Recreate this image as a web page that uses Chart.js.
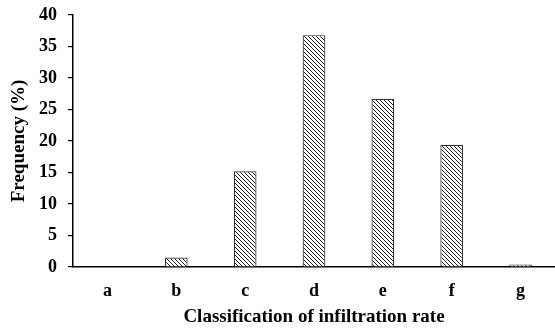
<!DOCTYPE html>
<html>
<head>
<meta charset="utf-8">
<script src="https://cdn.jsdelivr.net/npm/chart.js@4.4.1/dist/chart.umd.min.js"></script>
<style>
  html, body { margin: 0; padding: 0; background: #fff; }
  #wrap { width: 555px; height: 333px; }
</style>
</head>
<body>
<div id="wrap"><canvas id="infChart"></canvas></div>
<script>
const categories = ["a", "b", "c", "d", "e", "f", "g"];
const frequency = [0, 1.5, 15.2, 36.8, 26.7, 19.4, 0.4];
const yTicks = [0, 5, 10, 15, 20, 25, 30, 35, 40];

// diagonal hatch fill like the original
function makeHatch() {
    const size = 4;
    const c = document.createElement("canvas");
    c.width = size; c.height = size;
    const g = c.getContext("2d");
    g.fillStyle = "#fff";
    g.fillRect(0, 0, size, size);
    g.strokeStyle = "#222";
    g.lineWidth = 1;
    g.beginPath();
    g.moveTo(-1, -1); g.lineTo(size + 1, size + 1);
    g.moveTo(-1, size - 1); g.lineTo(1, size + 1);
    g.moveTo(size - 1, -1); g.lineTo(size + 1, 1);
    g.stroke();
    return g.createPattern(c, "repeat");
}

const font = { family: "'Liberation Serif', 'Times New Roman', serif", weight: "bold", size: 18 };
const titleFont = { ...font, size: 19 };
const ctx = document.getElementById("infChart").getContext("2d");

new Chart(ctx, {
    type: "bar",
    data: {
        labels: categories,
        datasets: [{
            data: frequency,
            backgroundColor: makeHatch(),
            borderColor: "#333",
            borderWidth: 1.2,
            barPercentage: 0.33,
            categoryPercentage: 1
        }]
    },
    options: {
        responsive: true,
        maintainAspectRatio: false,
        animation: false,
        layout: { padding: { top: 15, right: 0, left: 8, bottom: 5 } },
        plugins: { legend: { display: false }, tooltip: { enabled: false } },
        scales: {
            x: {
                grid: { display: false, drawTicks: false },
                border: { display: true, color: "#000", width: 1.5 },
                ticks: { color: "#000", font: font, padding: 14 },
                title: {
                    display: true,
                    text: "Classification of infiltration rate",
                    color: "#000",
                    font: titleFont,
                    padding: 0
                },
                afterFit: (s) => { s.height = 61; s.paddingLeft = 0; s.paddingRight = 0; }
            },
            y: {
                min: 0,
                max: 40,
                afterBuildTicks: (s) => { s.ticks = yTicks.map(v => ({ value: v })); },
                grid: { drawOnChartArea: false, tickLength: 5, tickColor: "#000", lineWidth: 1.2 },
                border: { display: true, color: "#000", width: 1.5 },
                ticks: { color: "#000", font: font, padding: 11 },
                title: {
                    display: true,
                    text: "Frequency (%)",
                    color: "#000",
                    font: titleFont,
                    padding: 0
                },
                afterFit: (s) => { s.width = 65; s.paddingTop = 0; s.paddingBottom = 0; }
            }
        }
    }
});
</script>
</body>
</html>
